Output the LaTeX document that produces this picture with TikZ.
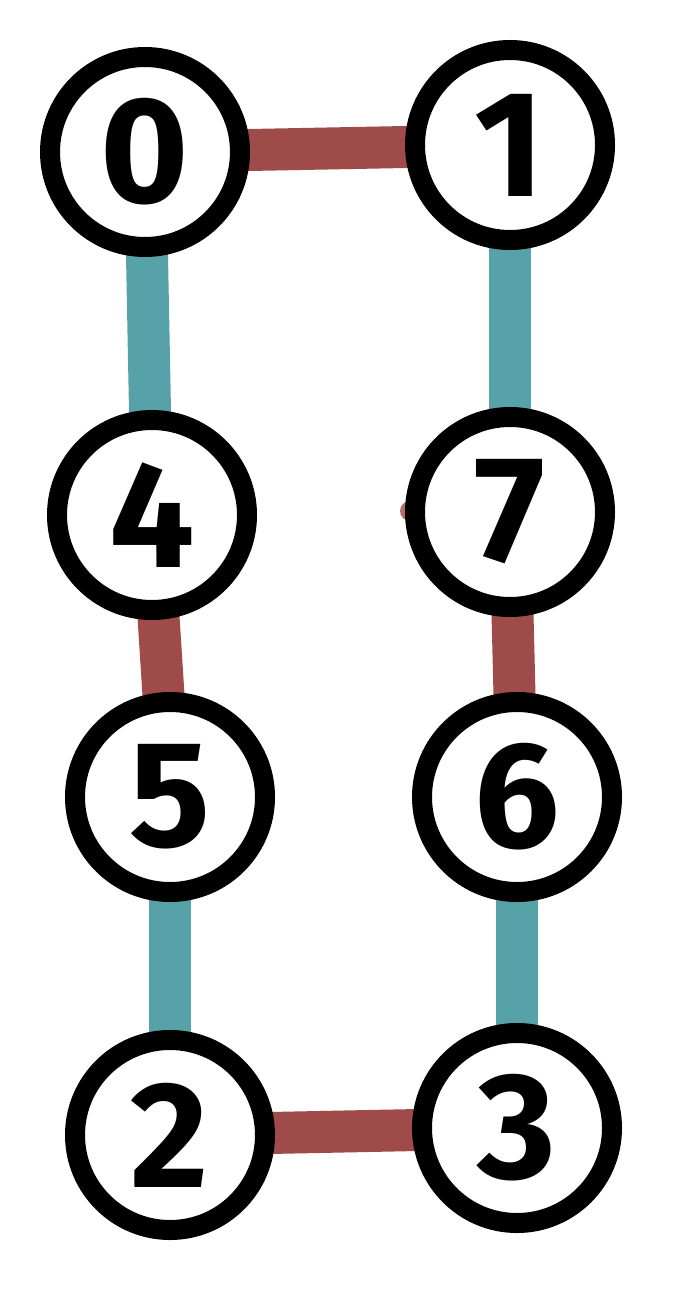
\documentclass[tikz,border=0pt]{standalone}
\usepackage{fontspec}
\setsansfont{Fira Sans}
\usetikzlibrary{backgrounds}
\definecolor{edgered}{RGB}{158,75,74}
\definecolor{edgeteal}{RGB}{86,162,168}
\begin{document}
\begin{tikzpicture}[
    x=0.2mm,
    y=-0.2mm,
    vertex/.style={
        circle,
        draw=black,
        fill=white,
        line width=4mm,
        minimum size=3.8cm,
        inner sep=0pt,
        font=\fontsize{86}{86}\selectfont\sffamily\bfseries
    },
    redlink/.style={draw=edgered,line width=8.4mm},
    teallink/.style={draw=edgeteal,line width=8.4mm}
]
\useasboundingbox (0,0) rectangle (685,1311);

\node[vertex] (n0) at (145,152) {0};
\node[vertex] (n1) at (510,145) {1};
\node[vertex] (n4) at (152,515) {4};
\node[vertex] (n7) at (510,512) {7};
\node[vertex] (n5) at (170,797) {5};
\node[vertex] (n6) at (517,797) {6};
\node[vertex] (n2) at (170,1135) {2};
\node[vertex] (n3) at (517,1128) {3};
\coordinate (stub) at (410,511);

\begin{scope}[on background layer]
    \draw[redlink] (n0.center) -- (n1.center);
    \draw[teallink] (n0.center) -- (n4.center);
    \draw[teallink] (n1.center) -- (n7.center);
    \draw[redlink] (n4.center) -- (n5.center);
    \draw[redlink] (n7.center) -- (n6.center);
    \draw[teallink] (n5.center) -- (n2.center);
    \draw[teallink] (n6.center) -- (n3.center);
    \draw[redlink] (n2.center) -- (n3.center);
    \draw[edgered!80,line width=4mm,line cap=round] (n7.center) -- (stub);
\end{scope}

\end{tikzpicture}
\end{document}
